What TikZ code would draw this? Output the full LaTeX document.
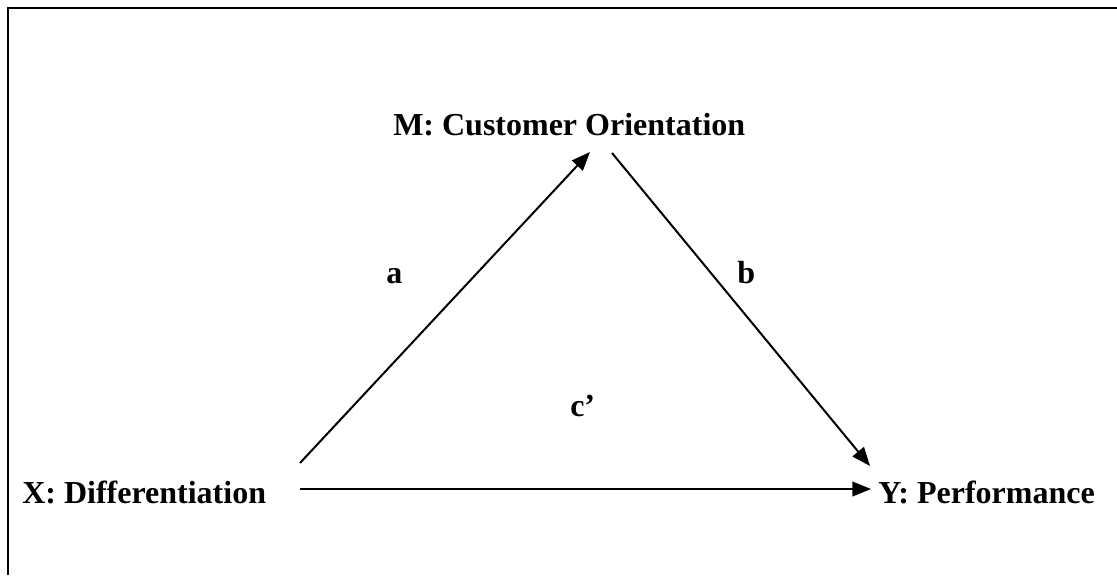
\documentclass[tikz,border=0pt]{standalone}
\usepackage{fontspec}
\setmainfont{Liberation Serif}
\usetikzlibrary{arrows.meta}
\begin{document}
\begin{tikzpicture}[x=0.75pt,y=-0.75pt,
  lbl/.style={inner sep=0pt,anchor=base west,font=\fontsize{24}{28}\selectfont\bfseries},
  arr/.style={line width=1.5pt,-{Triangle[length=14pt,width=11pt]}},
  frame/.style={line width=1.6pt}]
\useasboundingbox (0,0) rectangle (1117,575);
\draw[frame] (8,575) -- (8,8) -- (1117,8);
\node[lbl] (M) at (393,135) {M: Customer Orientation};
\node[lbl] (X) at (22,503) {X: Differentiation};
\node[lbl] (Y) at (878,503) {Y: Performance};
\node[lbl] (a) at (386,283) {a};
\node[lbl] (b) at (737,283) {b};
\node[lbl] (c) at (570,416) {c’};
\coordinate (xa) at (300,463);
\coordinate (ma) at (590,152);
\coordinate (mb) at (612,153);
\coordinate (yb) at (870,466);
\coordinate (xc) at (300,489);
\coordinate (yc) at (871,489);
\draw[arr] (xa) -- (ma);
\draw[arr] (mb) -- (yb);
\draw[arr] (xc) -- (yc);
\end{tikzpicture}
\end{document}
